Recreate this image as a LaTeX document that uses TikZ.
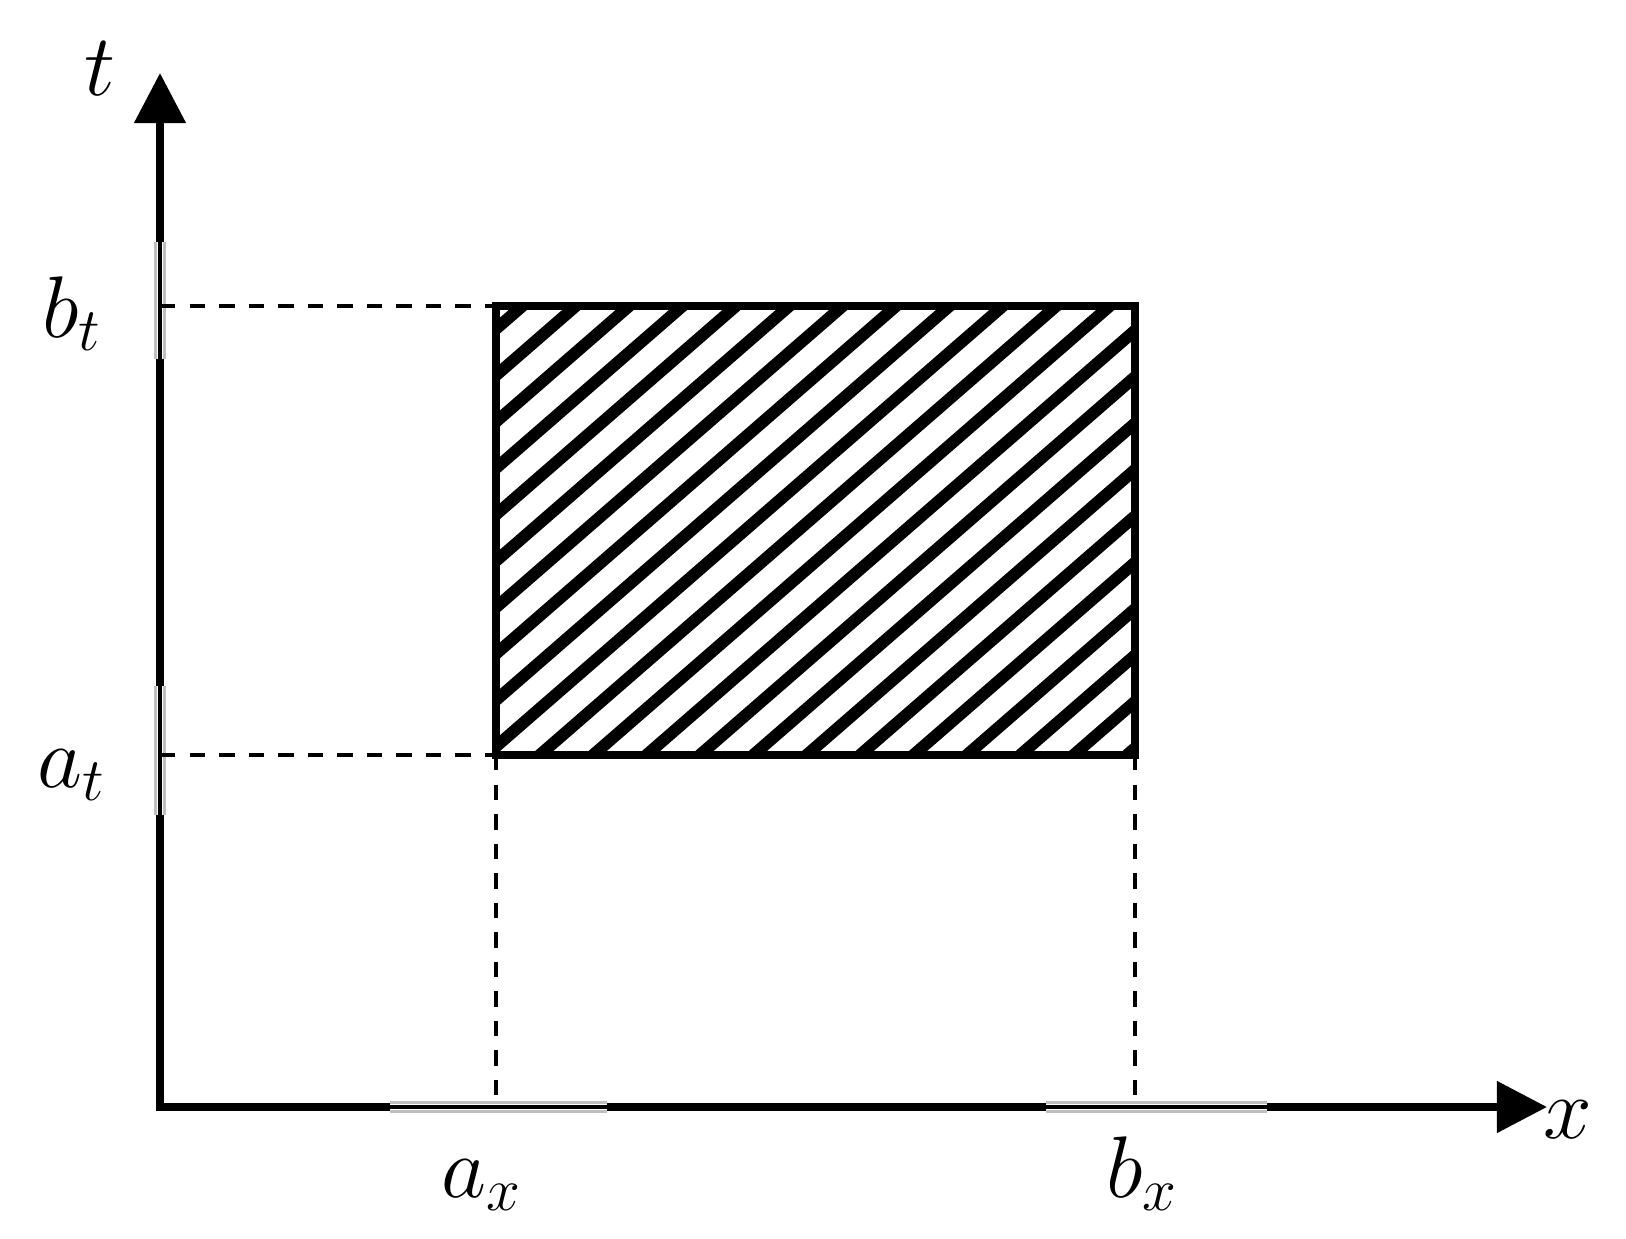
\documentclass[tikz,border=0pt]{standalone}
\usetikzlibrary{arrows.meta}

\begin{document}
\begin{tikzpicture}[x=0.01cm,y=-0.01cm,>={Triangle[length=0.5cm,width=0.5cm]},
  axis/.style={line width=2.2pt,line join=miter},
  guide/.style={line width=1.1pt,dash pattern=on 4.4pt off 4pt},
  hatch/.style={line width=3.4pt},
  ghost/.style={fill=black!25,draw=none},
  lbl/.style={inner sep=0pt,anchor=base,font=\fontsize{24}{28}\selectfont}]
\useasboundingbox (0,0) rectangle (1626,1239);
% axes
\coordinate (O) at (160,1107);
\coordinate (T) at (160,73);
\coordinate (X) at (1547,1107);
\draw[axis,<->] (T) -- (O) -- (X);
% faded tick bands
\path[ghost] (154,242) rectangle (166,359);
\path[ghost] (154,686) rectangle (166,815);
\path[ghost] (390,1101) rectangle (607,1113);
\path[ghost] (1046,1101) rectangle (1267,1113);
\fill[white] (157,242) rectangle (163,359);
\fill[white] (157,686) rectangle (163,815);
\fill[white] (390,1104) rectangle (607,1110);
\fill[white] (1046,1104) rectangle (1267,1110);
\draw[line width=1.2pt] (160,242) -- (160,359) (160,686) -- (160,815);
\draw[line width=1.2pt] (390,1107) -- (607,1107) (1046,1107) -- (1267,1107);
% shaded region
\coordinate (A) at (496,755);
\coordinate (B) at (1135,755);
\coordinate (C) at (1135,306);
\coordinate (D) at (496,306);
\begin{scope}
\clip (A) rectangle (C);
\foreach \k in {-1,...,22}{
  \pgfmathsetmacro\c{760+46.4*\k}
  \draw[hatch] (400,{\c-347.6}) -- (1250,{\c-1086.3});
}
\end{scope}
\draw[line width=2pt] (A) rectangle (C);
% guides
\coordinate (Tb) at (160,306);
\coordinate (Ta) at (160,755);
\coordinate (Xa) at (496,1107);
\coordinate (Xb) at (1135,1107);
\draw[guide] (Tb) -- (D);
\draw[guide] (Ta) -- (A);
\draw[guide] (A) -- (Xa);
\draw[guide] (B) -- (Xb);
% labels
\node[lbl] (tlab) at (100,95) {$t$};
\node[lbl,font=\fontsize{28}{32}\selectfont] (xlab) at (1568,1138) {$x$};
\node[lbl] (bt) at (72,337) {$b_t$};
\node[lbl] (at) at (72,787) {$a_t$};
\node[lbl] (ax) at (482,1197) {$a_x$};
\node[lbl] (bx) at (1142,1197) {$b_x$};
\end{tikzpicture}
\end{document}
